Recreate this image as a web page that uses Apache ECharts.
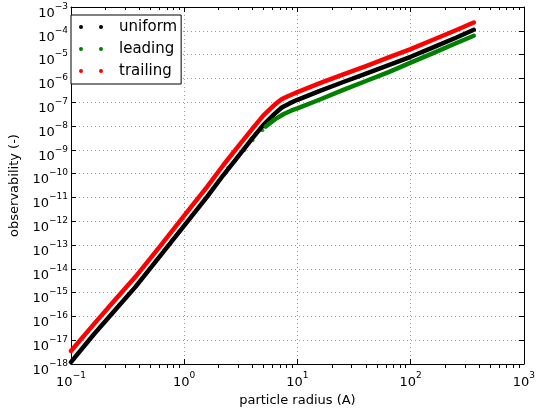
<!DOCTYPE html>
<html>
<head>
<meta charset="utf-8">
<title>observability vs particle radius</title>
<script src="https://cdn.jsdelivr.net/npm/echarts@6.0.0/dist/echarts.min.js"></script>
<style>
html, body { margin: 0; padding: 0; background: #fff; }
#main { width: 538px; height: 412px; }
</style>
</head>
<body>
<div id="main"></div>
<script>
// values
var radius = [0.1, 0.158, 0.251, 0.371, 0.631, 1.0, 1.585, 2.21, 3.16, 4.01, 5.01, 6.31, 7.28, 8.51,
	10, 15.8, 25.1, 39.8, 63.1, 100, 158, 251, 361];
var uniformVals = [1.2e-18, 1.7e-17, 2.1e-16, 1.74e-15, 4.1e-14, 6.5e-13, 1.02e-11, 8.5e-11, 7.2e-10, 3.1e-9,
	1.12e-8, 3.3e-8, 6.0e-8, 8.9e-8, 1.26e-7, 3.0e-7, 6.9e-7, 1.55e-6, 3.5e-6, 8.1e-6, 2.0e-5, 5.1e-5, 1.1e-4];
var trailingVals = [3.5e-18, 4.5e-17, 5.6e-16, 4.6e-15, 1.07e-13, 1.7e-12, 2.7e-11, 2.24e-10, 1.9e-9, 7.8e-9,
	2.8e-8, 7.9e-8, 1.35e-7, 1.9e-7, 2.66e-7, 6.3e-7, 1.45e-6, 3.2e-6, 7.4e-6, 1.7e-5, 4.2e-5, 1.05e-4, 2.24e-4];
var leadingRadius = [5.25, 6.31, 7.59, 8.87, 10, 15.8, 25.1, 39.8, 63.1, 100, 158, 251, 361];
var leadingVals = [9.5e-9, 1.9e-8, 3.2e-8, 4.5e-8, 5.5e-8, 1.3e-7, 3.2e-7, 7.6e-7, 1.8e-6, 4.6e-6, 1.15e-5, 3.0e-5, 6.2e-5];
// a few scattered leading points below the knee
var leadingSparseRadius = [2.44, 2.82, 3.40, 4.01, 4.9];
var leadingSparseVals = [1.7e-10, 3.5e-10, 9.8e-10, 2.5e-9, 6.6e-9];

var seriesNames = ['uniform', 'leading', 'trailing'];
var seriesColors = ['#000000', '#008000', '#ff0000'];
var xMin = 0.1, xMax = 1000;
var yMin = 1e-18, yMax = 1e-3;

var font = 'DejaVu Sans';

function pairs(xs, ys) {
	var out = [];
	for (var i = 0; i < xs.length; i++) out.push([xs[i], ys[i]]);
	return out;
}

function powLabel(v) {
	var e = Math.round(Math.log(v) / Math.LN10);
	var s = e < 0 ? '\u2212' + (-e) : '' + e;
	return '{b|10}{s|' + s + '}';
}

var labelRich = {
	b: { fontSize: 13, fontFamily: font, color: '#000' },
	s: { fontSize: 9, fontFamily: font, color: '#000', padding: [0, 0, 14, 0] }
};

function lineSeries(name, color, data) {
	return {
		name: name,
		type: 'line',
		data: data,
		showSymbol: false,
		symbol: 'none',
		color: color,
		lineStyle: { color: color, width: 4.5, cap: 'round', join: 'round' },
		silent: true
	};
}

var chart = echarts.init(document.getElementById('main'));

var option = {
	animation: false,
	backgroundColor: '#fff',
	grid: { left: 64, right: 10, top: 7, bottom: 44 },
	legend: {
		data: seriesNames,
		orient: 'vertical',
		left: 71,
		top: 15,
		padding: [4, 4, 5, 8],
		itemGap: 6,
		itemWidth: 24,
		itemHeight: 4,
		icon: 'path://M0,2a2,2 0 1,0 4,0a2,2 0 1,0 -4,0zM20,2a2,2 0 1,0 4,0a2,2 0 1,0 -4,0z',
		backgroundColor: '#fff',
		borderColor: '#000',
		borderWidth: 1,
		borderRadius: 0,
		textStyle: { fontFamily: font, fontSize: 15, color: '#000', lineHeight: 16, padding: [0, 0, 0, 11] }
	},
	xAxis: [{
		type: 'log',
		logBase: 10,
		min: xMin,
		max: xMax,
		interval: 1,
		name: 'particle radius (A)',
		nameLocation: 'middle',
		nameGap: 30,
		nameTextStyle: { fontFamily: font, fontSize: 13, color: '#000' },
		axisLine: { show: true, lineStyle: { color: '#000', width: 1 } },
		axisTick: { show: true, inside: true, length: 5, lineStyle: { color: '#000' } },
		axisLabel: { formatter: powLabel, rich: labelRich, margin: 7, showMinLabel: true, showMaxLabel: true },
		splitLine: { show: true, lineStyle: { color: '#9a9a9a', type: [1, 3], width: 1 } }
	}, {
		type: 'log',
		logBase: 10,
		min: xMin,
		max: xMax,
		interval: 1,
		position: 'top',
		axisLine: { show: true, onZero: false, lineStyle: { color: '#000', width: 1 } },
		axisTick: { show: true, inside: true, length: 5, lineStyle: { color: '#000' } },
		axisLabel: { show: false },
		splitLine: { show: false }
	}],
	yAxis: [{
		type: 'log',
		logBase: 10,
		min: yMin,
		max: yMax,
		interval: 1,
		name: 'observability (-)',
		nameLocation: 'middle',
		nameRotate: 90,
		nameGap: 50,
		nameTextStyle: { fontFamily: font, fontSize: 13, color: '#000' },
		axisLine: { show: true, onZero: false, lineStyle: { color: '#000', width: 1 } },
		axisTick: { show: true, inside: true, length: 5, lineStyle: { color: '#000' } },
		axisLabel: { formatter: powLabel, rich: labelRich, margin: 3, padding: [13, 0, 0, 0], showMinLabel: true, showMaxLabel: true },
		splitLine: { show: true, lineStyle: { color: '#9a9a9a', type: [1, 3], width: 1 } }
	}, {
		type: 'log',
		logBase: 10,
		min: yMin,
		max: yMax,
		interval: 1,
		position: 'right',
		axisLine: { show: true, onZero: false, lineStyle: { color: '#000', width: 1 } },
		axisTick: { show: true, inside: true, length: 5, lineStyle: { color: '#000' } },
		axisLabel: { show: false },
		splitLine: { show: false }
	}],
	series: [
		lineSeries('uniform', seriesColors[0], pairs(radius, uniformVals)),
		lineSeries('leading', seriesColors[1], pairs(leadingRadius, leadingVals)),
		{
			name: 'leading',
			type: 'scatter',
			data: pairs(leadingSparseRadius, leadingSparseVals),
			symbolSize: 4,
			color: seriesColors[1],
			itemStyle: { color: seriesColors[1] },
			silent: true
		},
		lineSeries('trailing', seriesColors[2], pairs(radius, trailingVals))
	]
};

chart.setOption(option);

// minor ticks on the log x axis (2..9 of every decade), bottom and top
function addMinorTicks() {
	var g = [];
	var top = 7, bottom = 368;
	for (var d = xMin; d < xMax; d *= 10) {
		for (var k = 2; k <= 9; k++) {
			var x = Math.round(chart.convertToPixel({ xAxisIndex: 0 }, d * k)) + 0.5;
			g.push({ type: 'line', shape: { x1: x, y1: bottom, x2: x, y2: bottom - 3 }, style: { stroke: '#000', lineWidth: 1 }, silent: true, z: 10 });
			g.push({ type: 'line', shape: { x1: x, y1: top, x2: x, y2: top + 3 }, style: { stroke: '#000', lineWidth: 1 }, silent: true, z: 10 });
		}
	}
	chart.setOption({ graphic: g });
}
addMinorTicks();
</script>
</body>
</html>
